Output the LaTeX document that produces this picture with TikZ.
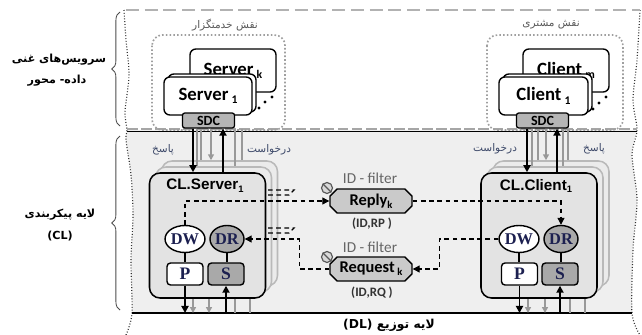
\documentclass[tikz,border=0pt]{standalone}
\usepackage{fontspec}
\setmainfont{Carlito}
\newfontfamily\arialfont{Liberation Sans}
\newfontfamily\timesfont{Liberation Serif}
\newfontfamily\farsifont[Script=Arabic]{DejaVu Sans}
\TeXXeTstate=1
\usetikzlibrary{positioning,arrows.meta,calc,shapes.geometric,shapes.misc,decorations.pathreplacing}
\definecolor{layerbg}{HTML}{EFEFEF}
\definecolor{clfill}{HTML}{E3E3E3}
\definecolor{darkfill}{HTML}{A9A9A9}
\definecolor{sdcfill}{HTML}{B5B5B5}
\definecolor{fltfill}{HTML}{CACACA}
\definecolor{navy}{HTML}{1C2050}
\definecolor{faint}{HTML}{3E4A6A}
\newcommand{\pxu}{0.03cm}
\newcommand{\fa}[1]{{\farsifont\beginR #1\endR}}
\newcommand{\lsub}[2]{\raisebox{-0.35ex}{\fontsize{#1}{#1}\selectfont #2}}

\begin{document}
\begin{tikzpicture}[x=0.03cm,y=-0.03cm,
  every node/.style={inner sep=0pt},
  roleframe/.style={draw=gray!75,line width=1.4pt,dash pattern=on 1.4pt off 1.8pt,rounded corners=9pt},
  rolelabel/.style={font=\farsifont\fontsize{9}{10}\selectfont,text=black!65},
  srvbox/.style={draw,line width=1.2pt,rounded corners=5pt,fill=white,font=\fontsize{16}{18}\selectfont\bfseries},
  sdcbox/.style={draw,line width=1.1pt,rounded corners=2pt,fill=sdcfill,minimum width={52*\pxu},minimum height={15*\pxu},font=\fontsize{12}{12}\selectfont\bfseries},
  clbox/.style={draw,line width=1.3pt,rounded corners=9pt,fill=clfill,minimum width={116*\pxu},minimum height={125*\pxu}},
  clshadow/.style={clbox,draw=gray!55,fill=clfill!70},
  cltitle/.style={font=\arialfont\fontsize{13}{14}\selectfont\bfseries},
  dwnode/.style={ellipse,draw,line width=1.2pt,fill=white,minimum width={34*\pxu},minimum height={27*\pxu},font=\timesfont\fontsize{14}{14}\selectfont\bfseries,text=navy},
  drnode/.style={dwnode,fill=darkfill},
  pnode/.style={draw,line width=1.2pt,rounded corners=3pt,fill=white,minimum width={36*\pxu},minimum height={22*\pxu},font=\timesfont\fontsize{15}{15}\selectfont\bfseries,text=navy},
  snode/.style={pnode,fill=darkfill},
  filt/.style={chamfered rectangle,chamfered rectangle xsep=3pt,chamfered rectangle ysep=3pt,draw,line width=1.2pt,fill=fltfill,minimum width={82*\pxu},minimum height={24*\pxu},font=\fontsize{14}{15}\selectfont\bfseries},
  knob/.style={circle,draw=black!65,line width=1pt,fill=black!15,minimum size={11*\pxu}},
  idlbl/.style={font=\fontsize{13}{14}\selectfont,text=black!60},
  kvlbl/.style={font=\fontsize{11}{12}\selectfont\bfseries,text=black!80},
  flowlbl/.style={font=\farsifont\fontsize{9}{10}\selectfont,text=faint},
  sidelbl/.style={font=\farsifont\fontsize{9.5}{12}\selectfont\bfseries},
  blk/.style={line width=1.5pt,-{Triangle[length=6pt,width=6pt]}},
  gry/.style={line width=1.3pt,draw=black!40},
  gryarr/.style={gry,-{Triangle[length=5pt,width=5pt]}},
  dsh/.style={line width=1pt,dash pattern=on 4pt off 3pt},
  dsharr/.style={dsh,-{Triangle[length=6pt,width=6pt]}},
  wave/.style={line width=1pt,dash pattern=on 0.8pt off 1.6pt,black!80},
  brc/.style={black!70,line width=0.7pt,decorate,decoration={brace,amplitude=7pt}}]
\useasboundingbox (0,0) rectangle (642,335);
\coordinate (base) at (0,313);
% layers
\fill[layerbg] plot[smooth] coordinates {(127,130) (126,140) (131,175) (133,215) (131,260) (132,313)}
  -- plot[smooth] coordinates {(632,313) (633,250) (637,200) (632,155) (637,130)} -- cycle;
\draw[wave] plot[smooth] coordinates {(124,10) (126,40) (129,75) (125,112) (127,130) (126,140) (131,175) (133,215) (131,260) (132,313) (126,335)};
\draw[wave] plot[smooth] coordinates {(640,10) (637,60) (633,100) (637,130) (632,155) (637,200) (633,250) (632,313) (640,335)};
\draw[gray!60,line width=2pt,dash pattern=on 11pt off 5pt] (126,10) -- (640,10);
\draw[line width=0.8pt] (127,131) -- (637,131);
\draw[gray!70,line width=1.8pt,dash pattern=on 9pt off 3pt] (127,129) -- (637,129);
\draw[line width=1.2pt] (132,313) -- (632,313);
\draw[brc] (120,126) -- (120,12);
\draw[brc] (120,310) -- (120,136);
\node[sidelbl] (svc1) at (59,60) {\fa{سرویس^^^^200cهای غنی}};
\node[sidelbl] (svc2) at (57,81) {\fa{داده- محور}};
\node[sidelbl] (cl1) at (60,215) {\fa{لایه پیکربندی}};
\node[sidelbl] (cl2) at (60,236) {(CL)};
\node[sidelbl,font=\farsifont\fontsize{10.5}{12}\selectfont\bfseries] (dl) at (389,325) {(DL) \fa{لایه توزیع}};
% roles
\draw[roleframe] (152,35) rectangle (285,130);
\node[rolelabel] (roleS) at (225,25) {\fa{نقش خدمتگزار}};
\draw[roleframe] (487,35) rectangle (623,130);
\node[rolelabel] (roleC) at (551,25) {\fa{نقش مشتری}};
\node[srvbox,minimum width={86*\pxu},minimum height={43*\pxu}] (srvK) at (233,70.5) {Server\,\lsub{10pt}{k}};
\node[srvbox,minimum width={88*\pxu},minimum height={38*\pxu}] (srv1b) at (212,93) {};
\node[srvbox,minimum width={88*\pxu},minimum height={38*\pxu}] (srv1) at (208,96) {Server\,\lsub{10pt}{1}};
\node[sdcbox] (sdcS) at (208.5,120.5) {SDC};
\node[srvbox,minimum width={86*\pxu},minimum height={43*\pxu}] (cliM) at (566,70.5) {Client\,\lsub{10pt}{m}};
\node[srvbox,minimum width={89*\pxu},minimum height={38*\pxu}] (cli1b) at (547.5,93) {};
\node[srvbox,minimum width={89*\pxu},minimum height={38*\pxu}] (cli1) at (543.5,96) {Client\,\lsub{10pt}{1}};
\node[sdcbox] (sdcC) at (542.5,120.5) {SDC};
\foreach \dx/\dy in {259/108,265/102,272/97,593/109,599/103,606/97}
  \fill (\dx,\dy) circle (1.3pt);
% configuration layer
\node[clshadow] (shS2) at (219.5,223.5) {};
\node[clshadow] (shS1) at (213.5,229.5) {};
\node[clbox] (clS) at (207.5,235.5) {};
\node[cltitle] (tS) at (205,186) {CL.Server\lsub{8pt}{1}};
\node[dwnode] (dwS) at (185,239) {DW};
\node[drnode] (drS) at (227,239) {DR};
\node[pnode] (pS) at (185,274) {P};
\node[snode] (sS) at (226,274) {S};
\node[clshadow] (shC2) at (551,223.5) {};
\node[clshadow] (shC1) at (545,229.5) {};
\node[clbox] (clC) at (539,235.5) {};
\node[cltitle] (tC) at (536,186) {CL.Client\lsub{8pt}{1}};
\node[dwnode] (dwC) at (519,239) {DW};
\node[drnode] (drC) at (561,239) {DR};
\node[pnode] (pC) at (519.5,274) {P};
\node[snode] (sC) at (560,274) {S};
\foreach \a/\b in {dwS/pS,drS/sS,dwC/pC,drC/sC}
  \draw[line width=1.8pt] (\a.south) -- (\a.south |- \b.north);
% filters
\node[filt] (rep) at (371,201) {Reply\lsub{9pt}{k}};
\node[filt] (req) at (371,269) {Request\,\lsub{9pt}{k}};
\foreach \nm/\ky in {kR/188,kQ/257}{
  \node[knob] (\nm) at (327,\ky) {};
  \draw[black!65,line width=1pt] (\nm.north west) -- (\nm.south east);
}
\node[idlbl] (idR) at (370,178) {ID - filter};
\node[kvlbl] (kvR) at (372,224) {(ID,RP )};
\node[idlbl] (idQ) at (370,247) {ID - filter};
\node[kvlbl] (kvQ) at (372,293) {(ID,RQ )};
\draw[dsharr] (dwS.north) |- (rep.west);
\draw[dsharr] (rep.east) -| (drC.north);
\draw[dsharr] (dwC.west) -| ($(req.east)+(27,0)$) -- (req.east);
\draw[dsharr] (req.west) -- ++(-30,0) |- (drS.east);
\foreach \yy in {190,228}
  \draw[dsh] (268,\yy) -- (294,\yy) -- (289,\yy+5) -- (268,\yy+5);
% flows
\node[flowlbl] (rspS) at (163,150) {\fa{پاسخ}};
\node[flowlbl] (rqS) at (269,150) {\fa{درخواست}};
\node[flowlbl] (rqC) at (495,149) {\fa{درخواست}};
\node[flowlbl] (rspC) at (594,149) {\fa{پاسخ}};
\foreach \xx/\nm in {197/shS1,201/shS2,235/shS1,242/shS2}
  \draw[gry] (\xx,0 |- sdcS.south) -- (\xx,0 |- \nm.north);
\foreach \xx/\nm in {532/shC1,538/shC2,563/shC1,568/shC2}
  \draw[gry] (\xx,0 |- sdcC.south) -- (\xx,0 |- \nm.north);
\draw[gryarr] (211,0 |- sdcS.south) -- (211,0 |- shS2.north);
\draw[gryarr] (546,0 |- sdcC.south) -- (546,0 |- shC2.north);
\draw[blk] (193,0 |- sdcS.south) -- (193,0 |- clS.north);
\draw[blk] (223,0 |- clS.north) -- (223,0 |- sdcS.south);
\draw[blk] (527,0 |- sdcC.south) -- (527,0 |- clC.north);
\draw[blk] (557,0 |- clC.north) -- (557,0 |- sdcC.south);
\foreach \xx in {193,209,528,545}
  \draw[gryarr] (\xx,0 |- clS.south) -- (\xx,0 |- base);
\foreach \xx in {235,250,570,585}
  \draw[gry] (\xx,0 |- clS.south) -- (\xx,0 |- base);
\foreach \a in {pS,pC}
  \draw[blk] (\a.south) -- (\a.south |- base);
\foreach \a in {sS,sC}
  \draw[blk] (\a.south |- base) -- (\a.south);
\end{tikzpicture}
\end{document}
